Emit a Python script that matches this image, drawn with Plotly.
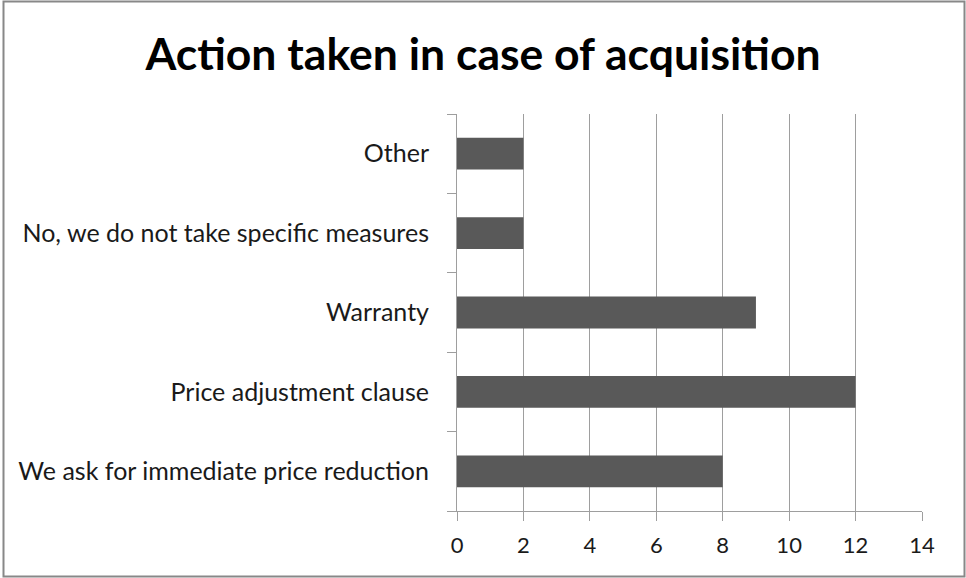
import plotly.graph_objects as go

# Survey answers, listed bottom-to-top as they appear on the axis
categories = [
    "We ask for immediate price reduction",
    "Price adjustment clause",
    "Warranty",
    "No, we do not take specific measures",
    "Other",
]
counts = [8, 12, 9, 2, 2]
x_ticks = [0, 2, 4, 6, 8, 10, 12, 14]

W, H = 966, 578
M_L, M_R, M_T, M_B = 457, 44, 114, 67
plot_w = W - M_L - M_R
plot_h = H - M_T - M_B

GRID = "#9e9e9e"
TEXT = "#1a1a1a"
FONT = "Lato, Carlito, Calibri, sans-serif"

fig = go.Figure(
    go.Bar(
        x=counts,
        y=categories,
        orientation="h",
        marker=dict(color="#595959", line=dict(width=0)),
        hoverinfo="x+y",
    )
)


def px_to_paper_x(px):
    return (px - M_L) / plot_w


def px_to_paper_y(py):
    return (H - M_B - py) / plot_h


fig.update_layout(
    width=W,
    height=H,
    margin=dict(l=M_L, r=M_R, t=M_T, b=M_B, pad=0),
    paper_bgcolor="white",
    plot_bgcolor="white",
    bargap=0.6,
    showlegend=False,
    font=dict(family=FONT, size=20, color=TEXT),
    title=dict(
        text="<b>Action taken in case of acquisition</b>",
        x=0.5,
        xref="container",
        xanchor="center",
        y=1 - 54 / H,
        yref="container",
        yanchor="middle",
        font=dict(family=FONT, size=44.5, color="black"),
    ),
    xaxis=dict(
        range=[0, 14],
        tickvals=x_ticks,
        ticktext=[str(v) for v in x_ticks],
        showgrid=True,
        gridcolor=GRID,
        gridwidth=1,
        zeroline=False,
        showline=True,
        linecolor=GRID,
        linewidth=1,
        ticks="outside",
        ticklen=9,
        tickcolor=GRID,
        ticklabelstandoff=6,
        tickfont=dict(family=FONT, size=22, color=TEXT),
        fixedrange=True,
    ),
    yaxis=dict(
        categoryorder="array",
        categoryarray=categories,
        showgrid=False,
        zeroline=False,
        showline=True,
        linecolor=GRID,
        linewidth=1,
        ticks="outside",
        tickson="boundaries",
        ticklen=9,
        tickcolor=GRID,
        ticklabelstandoff=22,
        tickfont=dict(family=FONT, size=25, color=TEXT),
        fixedrange=True,
    ),
    shapes=[
        # outer chart frame
        dict(
            type="rect",
            xref="paper",
            yref="paper",
            x0=px_to_paper_x(3.5),
            x1=px_to_paper_x(964.5),
            y0=px_to_paper_y(576.5),
            y1=px_to_paper_y(1.5),
            line=dict(color="#888888", width=2),
            fillcolor="rgba(0,0,0,0)",
            layer="above",
        )
    ],
)

fig.write_html("out.html")
